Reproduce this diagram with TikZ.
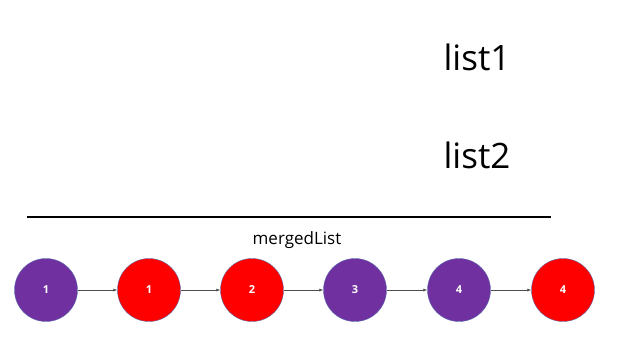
\documentclass[tikz,border=0pt]{standalone}
\usepackage{fontspec}
\setmainfont{Open Sans}
\usetikzlibrary{arrows.meta,positioning}
\definecolor{listpurple}{RGB}{112,48,160}
\definecolor{listred}{RGB}{255,0,0}
\definecolor{listedge}{RGB}{90,110,170}
\begin{document}
\begin{tikzpicture}[x=1pt, y=-1pt,
    listnode/.style={circle, minimum size=63pt, inner sep=0pt, draw=listedge, line width=0.4pt,
        text=white, font=\fontsize{11}{13}\selectfont\bfseries},
    link/.style={-{Latex[length=4pt,width=3pt]}, line width=0.5pt, black!70}]
\useasboundingbox (0,0) rectangle (640,360);

% Titles
\node[font=\fontsize{35}{40}\selectfont] (list1) at (477,57) {list1};
\node[font=\fontsize{35}{40}\selectfont] (list2) at (477,155) {list2};

% Separator
\coordinate (sepL) at (27,217);
\coordinate (sepR) at (551,217);
\draw[line width=2pt] (sepL) -- (sepR);
\node[font=\fontsize{17}{20}\selectfont] (merged) at (297,240) {mergedList};

% Merged list nodes
\node[listnode, fill=listpurple] (m1) at (46,290) {1};
\node[listnode, fill=listred]    (m2) at (149,290) {1};
\node[listnode, fill=listred]    (m3) at (252,290) {2};
\node[listnode, fill=listpurple] (m4) at (355,290) {3};
\node[listnode, fill=listpurple] (m5) at (459,290) {4};
\node[listnode, fill=listred]    (m6) at (563,290) {4};

% Links
\draw[link] (m1) -- (m2);
\draw[link] (m2) -- (m3);
\draw[link] (m3) -- (m4);
\draw[link] (m4) -- (m5);
\draw[link] (m5) -- (m6);
\end{tikzpicture}
\end{document}
